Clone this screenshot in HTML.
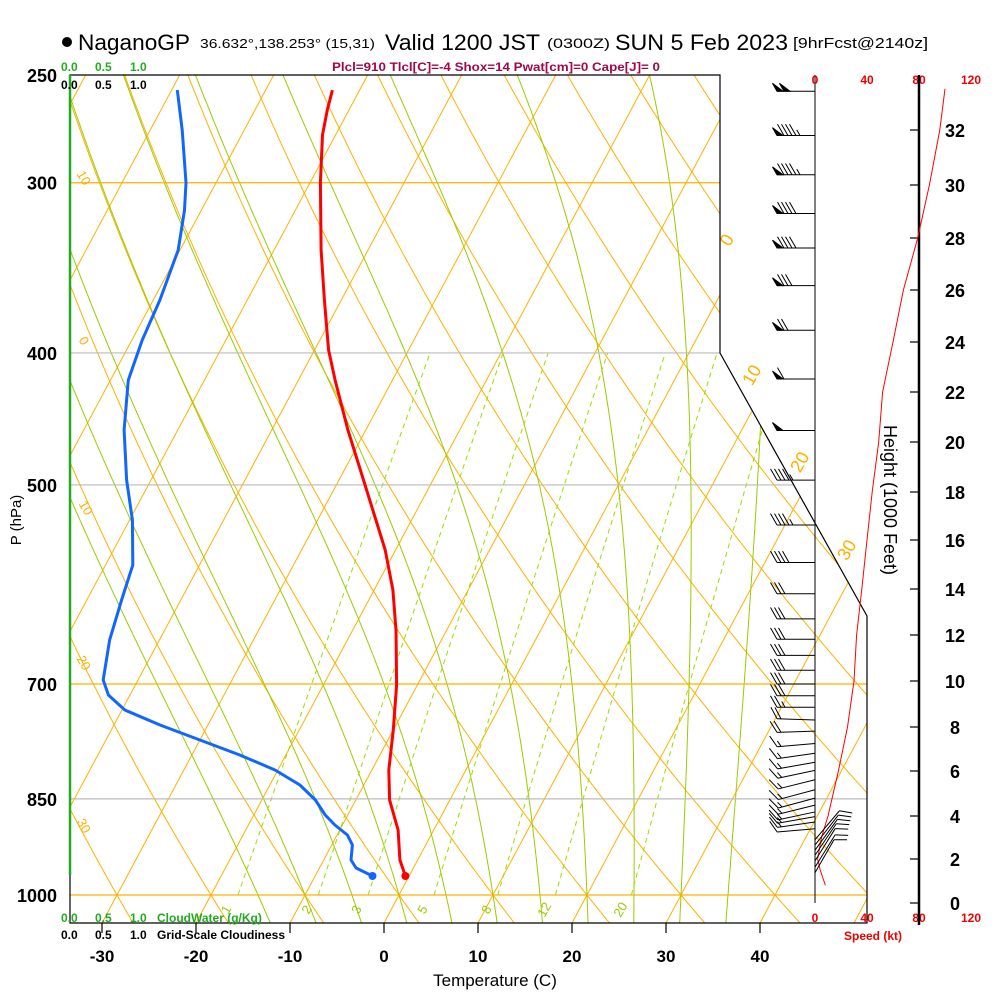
<!DOCTYPE html>
<html><head><meta charset="utf-8"><style>
html,body{margin:0;padding:0;background:#fff;}
svg{display:block;font-family:"Liberation Sans",sans-serif;}
</style></head><body>
<svg id="chart" width="1000" height="1000" viewBox="0 0 1000 1000" xmlns="http://www.w3.org/2000/svg">
<defs><clipPath id="frameClip"><polygon points="70,75 720,75 720,353 867,616 867,923 70,923"/></clipPath></defs>
<g id="bg" clip-path="url(#frameClip)"></g>
<g id="fg"></g>
<g>
<circle cx="67" cy="42" r="5" fill="#000"/>
<text x="78" y="50" font-size="22" textLength="112" lengthAdjust="spacingAndGlyphs">NaganoGP</text>
<text x="200" y="48" font-size="13" textLength="175" lengthAdjust="spacingAndGlyphs">36.632°,138.253° (15,31)</text>
<text x="385" y="50" font-size="22" textLength="155" lengthAdjust="spacingAndGlyphs">Valid 1200 JST</text>
<text x="547" y="48" font-size="14" textLength="63" lengthAdjust="spacingAndGlyphs">(0300Z)</text>
<text x="615" y="50" font-size="22" textLength="173" lengthAdjust="spacingAndGlyphs">SUN 5 Feb 2023</text>
<text x="793" y="48" font-size="15" textLength="135" lengthAdjust="spacingAndGlyphs">[9hrFcst@2140z]</text>
<text x="496" y="71" font-size="12" font-weight="bold" fill="#a0084a" text-anchor="middle" textLength="328" lengthAdjust="spacingAndGlyphs">Plcl=910 Tlcl[C]=-4 Shox=14 Pwat[cm]=0 Cape[J]= 0</text>
</g>
<g font-size="12" font-weight="bold">
<text x="61" y="71" fill="#22aa22">0.0</text><text x="95" y="71" fill="#22aa22">0.5</text><text x="130" y="71" fill="#22aa22">1.0</text>
<text x="61" y="89" fill="#000">0.0</text><text x="95" y="89" fill="#000">0.5</text><text x="130" y="89" fill="#000">1.0</text>
<text x="61" y="922" fill="#22aa22">0.0</text><text x="95" y="922" fill="#22aa22">0.5</text><text x="130" y="922" fill="#22aa22">1.0</text>
<text x="157" y="922" fill="#22aa22">CloudWater (g/Kg)</text>
<text x="61" y="939" fill="#000">0.0</text><text x="95" y="939" fill="#000">0.5</text><text x="130" y="939" fill="#000">1.0</text>
<text x="157" y="939" fill="#000">Grid-Scale Cloudiness</text>
</g>
<text x="495" y="986" font-size="17" text-anchor="middle">Temperature (C)</text>
<text transform="translate(21,520) rotate(-90)" font-size="15" text-anchor="middle">P (hPa)</text>
<text transform="translate(884,500) rotate(90)" font-size="18" text-anchor="middle">Height (1000 Feet)</text>
<text x="873" y="940" font-size="12" font-weight="bold" fill="#ee0000" text-anchor="middle">Speed (kt)</text>
</svg>
<script>
// ---- data ----
const tempP = [256.5,265.3,276.7,300,336.1,365.8,398.1,418.8,455.7,487.5,521.6,558.1,597.2,639,701.2,756.6,809.6,851.7,895.9,942.5,968.4];
const tempC = [-52.9,-52.3,-51.4,-48.9,-45.0,-41.8,-38.5,-36.1,-31.9,-28.3,-24.7,-21.1,-18.0,-15.4,-12.2,-10.0,-8.2,-6.4,-3.8,-1.9,-0.4];
const dewP = [256.5,274.4,300,314.2,336.1,365.8,391.4,418.8,455.7,495.8,530.5,572.5,607.4,649.9,695.3,713.1,731.5,750.2,769.5,789.3,809.6,830.3,851.7,873.5,888.4,903.6,918.9,942.5,955.4,968.4];
const dewC = [-69.4,-66.6,-63.2,-61.8,-60.2,-59.3,-58.9,-58.1,-55.7,-52.6,-49.7,-47.1,-46.3,-45.3,-43.7,-42.3,-39.7,-35.1,-30.0,-24.9,-20.3,-16.8,-14.3,-12.4,-10.8,-8.9,-7.8,-7.1,-6.1,-3.9];
const barbP = [257,277,296,316,335,357,385,418,456,496,535,570,601,627,649,667,684,700,714,728,744,758,774,787,799,810,823,837,849,859,869,876,884,894,911,919,927,935,944,954,963];
const barbSpd = [100,95,95,90,90,80,70,60,50,45,45,40,30,30,30,30,30,30,30,25,20,20,15,15,15,15,15,15,15,15,15,15,15,10,10,10,10,10,10,10,10];
const barbDir = [270,270,270,270,270,270,270,270,270,270,270,270,270,270,270,270,270,270,270,270,272,268,265,262,260,258,256,255,255,256,258,260,262,265,40,38,36,34,32,32,30];
const speedH = [0.8,1.5,2,3,4,6,8,10,12,14,16,18,20,22,24,26,28,30,32,33.5];
const speedKt = [8,4,2,5,10,18,25,30,32,36,40,44,49,52,60,68,79,88,96,100];
const heightTicks = [0,2,4,6,8,10,12,14,16,18,20,22,24,26,28,30,32];
const heightY = [903,859,816,771,727,681,635,589,540,492,442,392,342,290,238,185,130];
const pLevels = [250,300,400,500,700,850,1000];
const tTicks = [-30,-20,-10,0,10,20,30,40];
const mixRatios = [1,2,3,5,8,12,20];
const speedTicks = [0,40,80,120];

const NS="http://www.w3.org/2000/svg";
const yP = p => 895 - 591.6*Math.log(1000/p);
const xT = (t,p) => 384 + 9.4*t + 0.535*(923 - yP(p));
const xSpd = s => 815 + 1.3*s;
const bg=document.getElementById('bg'), fg=document.getElementById('fg');
function mk(tag,attrs,parent){const e=document.createElementNS(NS,tag);for(const k in attrs)e.setAttribute(k,attrs[k]);(parent||fg).appendChild(e);return e;}
function path(pts){return pts.map((q,i)=>(i?'L':'M')+q[0].toFixed(1)+','+q[1].toFixed(1)).join('');}
const pList=[];for(let p=1050;p>=240;p-=5)pList.push(p);

for(let t=-120;t<=50;t+=10){
  const e=mk('line',{x1:xT(t,1050),y1:yP(1050),x2:xT(t,240),y2:yP(240),stroke:'#ffb000','stroke-width':1},bg);
  
  
}
for(let th=-40;th<=200;th+=10){
  const pts=pList.map(p=>[xT((th+273.15)*Math.pow(p/1000,0.2857)-273.15,p),yP(p)]);
  const e=mk('path',{d:path(pts),fill:'none',stroke:'#ffb000','stroke-width':1},bg);
  
  
}
function es(tc){return 6.112*Math.exp(17.67*tc/(tc+243.5));}
function mstep(T,p,dp){const rs=0.622*es(T-273.15)/(p-es(T-273.15));const L=2.5e6,Rd=287,cp=1004;
  const dTdp=(1/p)*(Rd*T+L*rs)/(cp+L*L*rs*0.622/(Rd*T*T));return T+dTdp*dp;}
for(let t0=-15;t0<=35;t0+=5){
  const T=t0+273.15;const up=[],dn=[];
  up.push([xT(t0,1000),yP(1000)]);
  let Tt=T,pp=1000;while(pp>240){Tt=mstep(Tt,pp,-2);pp-=2;up.push([xT(Tt-273.15,pp),yP(pp)]);}
  Tt=T;pp=1000;while(pp<1055){Tt=mstep(Tt,pp,2);pp+=2;dn.push([xT(Tt-273.15,pp),yP(pp)]);}
  const e=mk('path',{d:path(dn.reverse().concat(up)),fill:'none',stroke:'#99cc00','stroke-width':1},bg);
  
  
}
function tdFromW(w,p){const e=w*p/(622+w);const l=Math.log(e/6.112);return 243.5*l/(17.67-l);}
mixRatios.forEach(w=>{
  const pts=[];for(let p=1000;p>=400;p-=10)pts.push([xT(tdFromW(w,p),p),yP(p)]);
  const e=mk('path',{d:path(pts),fill:'none',stroke:'#99dd00','stroke-width':1,'stroke-dasharray':'5,4'},bg);
  
  
  const lx=xT(tdFromW(w,1020),1020)-4,ly=yP(1020)+5;
  const t=mk('text',{x:lx,y:ly,'font-size':13,fill:'#99cc00','text-anchor':'middle',transform:`rotate(-60 ${lx} ${ly})`});
  t.textContent=w;
  
  
});
pLevels.forEach(p=>{
  if(p===250)return;
  const col=(p===300||p===700||p===1000)?'#ffb000':'#bbbbbb';
  const e=mk('line',{x1:70,y1:yP(p),x2:870,y2:yP(p),stroke:col,'stroke-width':1.2},bg);
  
  
  const t=mk('text',{x:57,y:yP(p)+7,'font-size':18,'font-weight':'bold','text-anchor':'end'});
  t.textContent=p;
  
  
});
{const t=mk('text',{x:57,y:82,'font-size':18,'font-weight':'bold','text-anchor':'end'});t.textContent='250';

}
[['0',732,243],['10',757,378],['20',805,465],['30',852,553]].forEach(a=>{
  const t=mk('text',{x:a[1],y:a[2],'font-size':18,fill:'#ffb000','text-anchor':'middle',transform:`rotate(-60 ${a[1]} ${a[2]})`});t.textContent=a[0];
  
  
});
[['10',80,180],['0',80,343],['10',82,510],['20',80,665],['30',80,828]].forEach(a=>{
  const t=mk('text',{x:a[1],y:a[2],'font-size':13,fill:'#ffb000','text-anchor':'middle',transform:`rotate(60 ${a[1]} ${a[2]})`});t.textContent=a[0];
  
  
});
{const e=mk('path',{d:'M70,75L720,75L720,353L867,616L867,923L70,923Z',fill:'none',stroke:'#000','stroke-width':1.2});

}
{const e=mk('line',{x1:70,y1:75,x2:70,y2:875,stroke:'#22aa22','stroke-width':2.5});

}
tTicks.forEach(t=>{
  const x=384+9.4*t;
  const l=mk('line',{x1:x,y1:923,x2:x,y2:933,stroke:'#000','stroke-width':1.2});
  
  
  const tx=mk('text',{x:x,y:962,'font-size':17,'font-weight':'bold','text-anchor':'middle'});tx.textContent=t;
  
  
});
{const e=mk('line',{x1:815,y1:75,x2:815,y2:903,stroke:'#000','stroke-width':1});

}
speedTicks.forEach(s=>{
  [84,922].forEach(y=>{
    const t=mk('text',{x:xSpd(s),y:y,'font-size':12,'font-weight':'bold',fill:'#ee0000','text-anchor':'middle'});t.textContent=s;
    
    
  });
});
{const e=mk('line',{x1:919,y1:75,x2:919,y2:925,stroke:'#000','stroke-width':2.5});

}
function hY(h){
  for(let i=0;i<heightTicks.length-1;i++){if(h<=heightTicks[i+1]){const f=(h-heightTicks[i])/(heightTicks[i+1]-heightTicks[i]);return heightY[i]+f*(heightY[i+1]-heightY[i]);}}
  const n=heightTicks.length-1;return heightY[n]+(h-heightTicks[n])*(heightY[n]-heightY[n-1])/2;
}
heightTicks.forEach(h=>{
  const y=hY(h);
  const l=mk('line',{x1:910,y1:y,x2:919,y2:y,stroke:'#000','stroke-width':1.2});
  
  
  const t=mk('text',{x:955,y:y+7,'font-size':18,'font-weight':'bold','text-anchor':'middle'});t.textContent=h;
  
  
});
{const e=mk('path',{d:path(speedH.map((h,i)=>[xSpd(speedKt[i]),hY(h)])),fill:'none',stroke:'#ff0000','stroke-width':1});

}
barbP.forEach((p,i)=>{
  const y=yP(p),d=barbDir[i]*Math.PI/180;
  const u=[Math.sin(d),-Math.cos(d)],n=[-u[1],u[0]];
  const L=38,tip=[815+u[0]*L,y+u[1]*L];
  const g=mk('g',{stroke:'#000','stroke-width':1,fill:'#000'});
  
  
  mk('line',{x1:815,y1:y,x2:tip[0],y2:tip[1]},g);
  let s=Math.round(barbSpd[i]/5)*5,pos=0;
  const bv=[(u[0]*0.5+n[0]*0.87)*13,(u[1]*0.5+n[1]*0.87)*13];
  const at=k=>[tip[0]-u[0]*k,tip[1]-u[1]*k];
  while(s>=50){const a=at(pos),b=at(pos+6);mk('polygon',{points:`${a[0]},${a[1]} ${a[0]+bv[0]*0.7},${a[1]+bv[1]*0.7} ${b[0]},${b[1]}`},g);pos+=7;s-=50;}
  while(s>=10){const a=at(pos);mk('line',{x1:a[0],y1:a[1],x2:a[0]+bv[0],y2:a[1]+bv[1]},g);pos+=4;s-=10;}
  if(s>=5){if(pos===0)pos=4;const a=at(pos);mk('line',{x1:a[0],y1:a[1],x2:a[0]+bv[0]/2,y2:a[1]+bv[1]/2},g);}
});
{const e=mk('path',{d:path(dewP.map((p,i)=>[xT(dewC[i],p),yP(p)])),fill:'none',stroke:'#1166ff','stroke-width':3,'stroke-linejoin':'round'});

}
{const e=mk('path',{d:path(tempP.map((p,i)=>[xT(tempC[i],p),yP(p)])),fill:'none',stroke:'#ff0000','stroke-width':3,'stroke-linejoin':'round'});

}
{const n=dewP.length-1;const e=mk('circle',{cx:xT(dewC[n],dewP[n]),cy:yP(dewP[n]),r:4,fill:'#1166ff'});

}
{const n=tempP.length-1;const e=mk('circle',{cx:xT(tempC[n],tempP[n]),cy:yP(tempP[n]),r:4,fill:'#ff0000'});

}
</script>
</body></html>
